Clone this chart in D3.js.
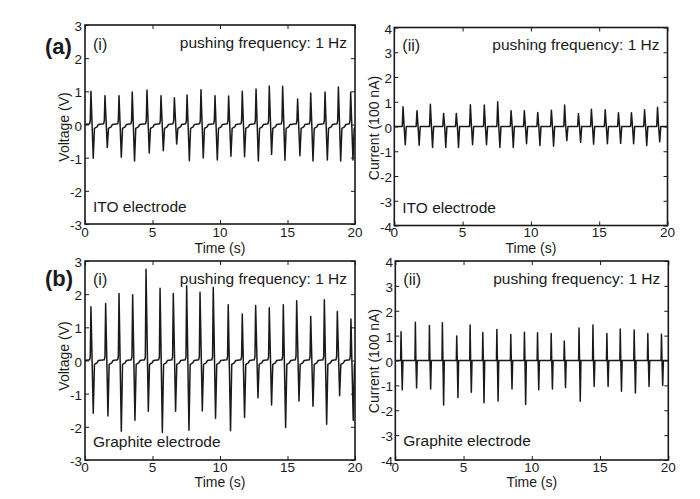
<!DOCTYPE html>
<html><head><meta charset="utf-8">
<script src="https://cdn.jsdelivr.net/npm/d3@7"></script>
<style>
body{margin:0;background:#fff;}
svg{display:block;font-family:"Liberation Sans",Arial,sans-serif;}
</style></head>
<body><svg id="c" width="700" height="499"></svg>
<script>
// ---- data ----
const timeTicks = [0, 5, 10, 15, 20];
const voltTicks = [-3, -2, -1, 0, 1, 2, 3];
const currentTicks = [-4, -3, -2, -1, 0, 1, 2, 3, 4];

const itoVoltTimes = [0.44,1.48,2.52,3.5,4.59,5.63,6.62,7.56,8.59,9.63,10.64,11.65,12.67,13.65,14.64,15.75,16.72,17.78,18.77,19.68];
const itoVoltPeaks = [1.0,0.87,0.87,0.98,1.04,0.87,0.81,0.89,1.05,0.87,0.86,1.0,1.07,1.16,1.15,0.77,0.95,0.98,1.13,0.97];
const itoVoltTroughs = [-1.02,-0.69,-0.99,-1.1,-0.86,-0.79,-0.59,-1.09,-1.01,-1.07,-0.96,-0.97,-1.1,-0.9,-1.08,-0.94,-1.1,-1.07,-1.1,-1.07];

const itoCurTimes = [0.64,1.66,2.64,3.61,4.54,5.57,6.59,7.57,8.55,9.52,10.5,11.5,12.47,13.48,14.43,15.44,16.41,17.36,18.32,19.27];
const itoCurPeaks = [0.8,0.64,0.9,0.53,0.53,0.88,0.87,1.0,0.64,0.64,0.57,0.66,0.87,0.53,0.7,0.68,0.56,0.56,0.68,0.78];
const itoCurTroughs = [-0.74,-0.76,-0.85,-0.85,-0.85,-0.74,-0.74,-0.85,-0.85,-0.7,-0.77,-0.8,-0.57,-0.64,-0.72,-0.7,-0.68,-0.7,-0.77,-0.62];

const graphVoltTimes = [0.44,1.53,2.52,3.53,4.52,5.56,6.54,7.53,8.52,9.5,10.61,11.65,12.64,13.65,14.69,15.68,16.72,17.73,18.69,19.7];
const graphVoltPeaks = [1.62,1.72,2.02,1.98,2.75,2.18,2.02,2.25,2.06,2.2,1.68,1.4,1.66,1.59,1.68,1.8,1.33,1.83,1.48,1.25];
const graphVoltTroughs = [-1.59,-1.67,-2.13,-1.8,-1.53,-2.17,-1.53,-2.1,-1.52,-1.74,-2.12,-1.72,-1.12,-1.34,-2.02,-1.22,-1.38,-1.92,-1.06,-1.8];

const graphCurTimes = [0.42,1.47,2.5,3.45,4.5,5.48,6.41,7.44,8.46,9.46,10.42,11.42,12.38,13.46,14.48,15.5,16.48,17.5,18.5,19.5];
const graphCurPeaks = [1.16,1.54,1.41,1.52,0.98,1.43,1.13,1.25,1.05,1.14,1.12,1.09,0.78,1.31,1.43,1.09,1.27,1.23,1.09,1.06];
const graphCurTroughs = [-1.18,-1.1,-1.15,-1.79,-1.49,-1.28,-1.7,-1.63,-1.15,-1.77,-1.18,-1.15,-1.09,-1.64,-1.04,-1.04,-1.24,-1.31,-1.04,-1.0];

// ---- drawing ----
const svg = d3.select("#c");
const ink = "#1a1a1a";

function voltShape(t, p, q) {
  return [[t-0.1,0.02],[t-0.05,0.12],[t,p],[t+0.17,q],[t+0.26,-0.12],[t+0.45,-0.07],[t+0.55,0]];
}
function curShapeA(t, p, q) {
  return [[t-0.06,0],[t,p],[t+0.08,0],[t+0.16,q],[t+0.24,0]];
}
function curShapeB(t, p, q) {
  return [[t-0.03,0],[t,p],[t+0.04,0],[t+0.09,q],[t+0.14,0]];
}

const panels = [
  {x0:85, x1:355, y0:25, y1:224, dom:[-3,3], yt:voltTicks, times:itoVoltTimes, peaks:itoVoltPeaks, troughs:itoVoltTroughs, shape:voltShape,
   ylab:"Voltage (V)", ylabX:69, ylabY:127, roman:"(i)", note:"ITO electrode", tag:"(a)", tagY:54, romanY:50, pushY:48, noteY:212, tlabY:253, xtY:236.5, ytEnd:82},
  {x0:394.3, x1:667.5, y0:27.5, y1:225.5, dom:[-4,4], yt:currentTicks, times:itoCurTimes, peaks:itoCurPeaks, troughs:itoCurTroughs, shape:curShapeA,
   ylab:"Current (100 nA)", ylabX:379, ylabY:128, roman:"(ii)", note:"ITO electrode", romanY:51, pushY:49.5, noteY:213, tlabY:253, xtY:237, ytEnd:392},
  {x0:85, x1:355, y0:261, y1:460, dom:[-3,3], yt:voltTicks, times:graphVoltTimes, peaks:graphVoltPeaks, troughs:graphVoltTroughs, shape:voltShape,
   ylab:"Voltage (V)", ylabX:69, ylabY:356, roman:"(i)", note:"Graphite electrode", tag:"(b)", tagY:286, romanY:285, pushY:283.5, noteY:447, tlabY:487, xtY:472, ytEnd:82},
  {x0:395.3, x1:668.3, y0:261, y1:460, dom:[-4,4], yt:currentTicks, times:graphCurTimes, peaks:graphCurPeaks, troughs:graphCurTroughs, shape:curShapeB,
   ylab:"Current (100 nA)", ylabX:379, ylabY:361, roman:"(ii)", note:"Graphite electrode", romanY:285, pushY:283.5, noteY:446, tlabY:487, xtY:472, ytEnd:393}
];

panels.forEach((P, i) => {
  const x = d3.scaleLinear().domain([0,20]).range([P.x0, P.x1]);
  const y = d3.scaleLinear().domain(P.dom).range([P.y1, P.y0]);
  const g = svg.append("g");

  const clipId = "clip" + i;
  svg.append("clipPath").attr("id", clipId).append("rect")
    .attr("x", P.x0).attr("y", P.y0).attr("width", P.x1 - P.x0).attr("height", P.y1 - P.y0);

  // waveform
  let pts = [[0,0]];
  P.times.forEach((t, k) => { pts = pts.concat(P.shape(t, P.peaks[k], P.troughs[k])); });
  pts.push([20,0]);
  const line = d3.line().x(d => x(d[0])).y(d => y(d[1]));
  g.append("path").attr("d", line(pts)).attr("fill","none").attr("stroke", ink)
    .attr("stroke-width", 1.5).attr("stroke-linejoin","round").attr("clip-path","url(#"+clipId+")");

  // axes (inward ticks, MATLAB style)
  const tl = 4;
  const axB = d3.axisBottom(x).tickValues(timeTicks).tickSizeInner(-tl).tickSizeOuter(0).tickFormat("");
  const axT = d3.axisTop(x).tickValues(timeTicks).tickSizeInner(-tl).tickSizeOuter(0).tickFormat("");
  const axL = d3.axisLeft(y).tickValues(P.yt).tickSizeInner(-tl).tickSizeOuter(0).tickFormat("");
  const axR = d3.axisRight(y).tickValues(P.yt).tickSizeInner(-tl).tickSizeOuter(0).tickFormat("");
  [[axB,`translate(0,${P.y1})`],[axT,`translate(0,${P.y0})`],[axL,`translate(${P.x0},0)`],[axR,`translate(${P.x1},0)`]].forEach(([a,tr]) => {
    const ag = g.append("g").attr("transform", tr).call(a);
    ag.select(".domain").remove();
    ag.selectAll("line").attr("stroke", ink).attr("stroke-width", 1);
  });
  g.append("rect").attr("x", P.x0).attr("y", P.y0).attr("width", P.x1-P.x0).attr("height", P.y1-P.y0)
    .attr("fill","none").attr("stroke", ink).attr("stroke-width", 1.6);

  // tick labels
  g.selectAll(".xt").data(timeTicks).enter().append("text")
    .attr("x", d => x(d)).attr("y", P.xtY).attr("text-anchor","middle")
    .attr("font-size", 13.5).attr("fill", ink).text(d => d);
  g.selectAll(".yt").data(P.yt).enter().append("text")
    .attr("x", P.ytEnd).attr("y", d => y(d) + 6).attr("text-anchor","end")
    .attr("font-size", 13.5).attr("fill", ink).text(d => d);

  // axis titles
  g.append("text").attr("x", x(10)).attr("y", P.tlabY).attr("text-anchor","middle")
    .attr("font-size", 14).attr("fill", ink).text("Time (s)");
  g.append("text").attr("transform", `translate(${P.ylabX},${P.ylabY}) rotate(-90)`)
    .attr("text-anchor","middle").attr("font-size", 14).attr("fill", ink).text(P.ylab);

  // annotations
  g.append("text").attr("x", P.x0 + 8).attr("y", P.romanY).attr("font-size", 16).attr("fill", ink).text(P.roman);
  g.append("text").attr("x", P.x1 - 8).attr("y", P.pushY).attr("text-anchor","end")
    .attr("font-size", 15.5).attr("fill", ink).text("pushing frequency: 1 Hz");
  g.append("text").attr("x", P.x0 + 8).attr("y", P.noteY).attr("font-size", 15.5).attr("fill", ink).text(P.note);
  if (P.tag) {
    g.append("text").attr("x", 45).attr("y", P.tagY).attr("font-size", 22).attr("font-weight","bold")
      .attr("fill", ink).text(P.tag);
  }
});
</script></body></html>
